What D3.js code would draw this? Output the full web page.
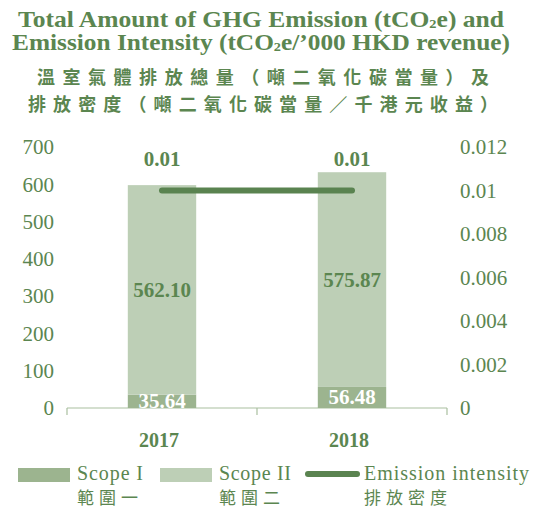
<!DOCTYPE html>
<html>
<head>
<meta charset="utf-8">
<script src="https://cdn.jsdelivr.net/npm/d3@7"></script>
<style>
  body { margin: 0; background: #fff; }
  svg { display: block; }
</style>
</head>
<body>
<script>
// data
const years = ["2017", "2018"];
const scope1 = [35.64, 56.48];
const scope2 = [562.10, 575.87];
const intensity = [0.01, 0.01];
const leftTicks = [0, 100, 200, 300, 400, 500, 600, 700];
const rightTicks = [0, 0.002, 0.004, 0.006, 0.008, 0.01, 0.012];

const W = 534, H = 508;
const textColor = "#5b8650";
const c1 = "#9cb48f";
const c2 = "#bdcfb6";
const lineColor = "#5a8350";
const axisColor = "#a9bf9f";
const serif = "'Liberation Serif', 'Times New Roman', serif";
const cjk = "'Noto Sans CJK TC', 'Noto Sans CJK SC', sans-serif";

const svg = d3.select("body").append("svg")
  .attr("width", W)
  .attr("height", H);

// title
const title = svg.append("g")
  .attr("fill", textColor)
  .attr("text-anchor", "middle");

function co2line(y, before, after, len) {
  const t = title.append("text")
    .attr("x", 261).attr("y", y)
    .attr("font-family", serif)
    .attr("font-weight", "bold")
    .attr("font-size", 23)
    .attr("textLength", len)
    .attr("lengthAdjust", "spacingAndGlyphs");
  t.append("tspan").text(before);
  t.append("tspan").attr("font-size", 13).attr("dy", 1).text("2");
  t.append("tspan").attr("dy", -1).text(after);
}
co2line(27, "Total Amount of GHG Emission (tCO", "e) and", 486);
co2line(50, "Emission Intensity (tCO", "e/\u2019000 HKD revenue)", 498);

title.append("text")
  .attr("x", 263).attr("y", 84)
  .attr("font-family", cjk)
  .attr("font-weight", "bold")
  .attr("font-size", 18)
  .attr("textLength", 452)
  .attr("lengthAdjust", "spacing")
  .text("溫室氣體排放總量（噸二氧化碳當量）及");

title.append("text")
  .attr("x", 263).attr("y", 111)
  .attr("font-family", cjk)
  .attr("font-weight", "bold")
  .attr("font-size", 18)
  .attr("textLength", 470)
  .attr("lengthAdjust", "spacing")
  .text("排放密度（噸二氧化碳當量／千港元收益）");

// scales
const x = d3.scaleBand().domain(years).range([67, 447]).padding(0);
const y = d3.scaleLinear().domain([0, 700]).range([408, 147]);
const y2 = d3.scaleLinear().domain([0, 0.012]).range([408, 147]);
const barW = x.bandwidth() * 0.36;

// left axis labels
const leftAxis = svg.append("g")
  .attr("transform", "translate(54,0)")
  .call(d3.axisLeft(y).tickValues(leftTicks).tickSize(0).tickPadding(0));
leftAxis.select(".domain").remove();
leftAxis.selectAll("text")
  .attr("font-family", serif)
  .attr("font-size", 21)
  .attr("fill", textColor);

// right axis labels
const rightAxis = svg.append("g")
  .attr("transform", "translate(460,0)")
  .call(d3.axisRight(y2).tickValues(rightTicks).tickSize(0).tickPadding(0)
    .tickFormat(d => d === 0 ? "0" : String(+d.toFixed(3))));
rightAxis.select(".domain").remove();
rightAxis.selectAll("text")
  .attr("font-family", serif)
  .attr("font-size", 21)
  .attr("fill", textColor);

// x axis
const xAxis = svg.append("g")
  .attr("transform", "translate(0,408)");
xAxis.append("line")
  .attr("x1", 67).attr("x2", 447)
  .attr("stroke", axisColor).attr("stroke-width", 1.2);
xAxis.selectAll(".tk")
  .data([67, x("2018"), 447])
  .join("line")
  .attr("x1", d => d).attr("x2", d => d)
  .attr("y1", 0).attr("y2", 7)
  .attr("stroke", axisColor).attr("stroke-width", 1.2);

xAxis.selectAll(".yr")
  .data(years)
  .join("text")
  .attr("x", d => x(d) + x.bandwidth() / 2 - 3)
  .attr("y", 39)
  .attr("text-anchor", "middle")
  .attr("font-family", serif)
  .attr("font-weight", "bold")
  .attr("font-size", 20)
  .attr("fill", textColor)
  .text(d => d);

// bars
const bars = svg.append("g");
years.forEach((yr, i) => {
  const bx = x(yr) + x.bandwidth() / 2 - barW / 2;
  bars.append("rect")
    .attr("x", bx).attr("width", barW)
    .attr("y", y(scope1[i])).attr("height", y(0) - y(scope1[i]))
    .attr("fill", c1);
  bars.append("rect")
    .attr("x", bx).attr("width", barW)
    .attr("y", y(scope1[i] + scope2[i])).attr("height", y(scope1[i]) - y(scope1[i] + scope2[i]))
    .attr("fill", c2);
});

// value labels
const labels = svg.append("g")
  .attr("font-family", serif)
  .attr("font-weight", "bold")
  .attr("font-size", 21)
  .attr("text-anchor", "middle");

years.forEach((yr, i) => {
  const cx = x(yr) + x.bandwidth() / 2;
  labels.append("text")
    .attr("x", cx)
    .attr("y", (y(0) + y(scope1[i])) / 2 + 7)
    .attr("fill", "#fff")
    .text(scope1[i].toFixed(2));
  labels.append("text")
    .attr("x", cx)
    .attr("y", (y(scope1[i]) + y(scope1[i] + scope2[i])) / 2 + 7)
    .attr("fill", textColor)
    .text(scope2[i].toFixed(2));
  labels.append("text")
    .attr("x", cx)
    .attr("y", 166)
    .attr("fill", textColor)
    .text(intensity[i].toFixed(2));
});

// intensity line
const line = d3.line()
  .x((d, i) => x(years[i]) + x.bandwidth() / 2)
  .y(d => y2(d));
svg.append("path")
  .datum(intensity)
  .attr("d", line)
  .attr("fill", "none")
  .attr("stroke", lineColor)
  .attr("stroke-width", 6)
  .attr("stroke-linecap", "round");

// legend
const legend = svg.append("g").attr("font-family", serif).attr("fill", textColor);
const legendItems = [
  { en: "Scope I", zh: "範圍一", x: 18, type: "rect", color: c1, len: 66 },
  { en: "Scope II", zh: "範圍二", x: 160, type: "rect", color: c2, len: 72 },
  { en: "Emission intensity", zh: "排放密度", x: 305, type: "line", color: lineColor, len: 165 }
];
legendItems.forEach(it => {
  if (it.type === "rect") {
    legend.append("rect")
      .attr("x", it.x).attr("y", 468)
      .attr("width", 52).attr("height", 14)
      .attr("fill", it.color);
  } else {
    legend.append("line")
      .attr("x1", it.x + 3).attr("x2", it.x + 52)
      .attr("y1", 474).attr("y2", 474)
      .attr("stroke", it.color)
      .attr("stroke-width", 6)
      .attr("stroke-linecap", "round");
  }
  legend.append("text")
    .attr("x", it.x + 59).attr("y", 480)
    .attr("font-size", 20)
    .attr("textLength", it.len)
    .attr("lengthAdjust", "spacing")
    .text(it.en);
  legend.append("text")
    .attr("x", it.x + 59).attr("y", 504)
    .attr("font-family", cjk)
    .attr("font-size", 17)
    .attr("letter-spacing", 5)
    .text(it.zh);
});
</script>
</body>
</html>
